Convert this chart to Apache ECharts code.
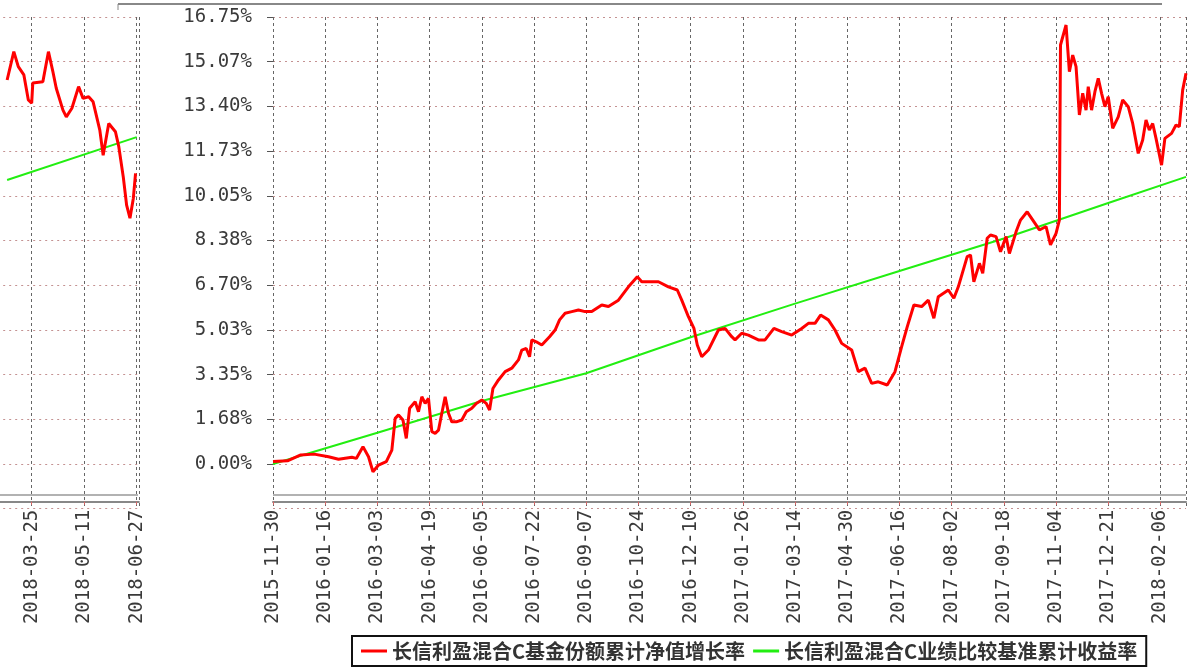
<!DOCTYPE html>
<html>
<head>
<meta charset="utf-8">
<script src="https://cdn.jsdelivr.net/npm/echarts@6/dist/echarts.min.js"></script>
<style>
  html, body { margin: 0; padding: 0; background: #fff; }
  #chart { width: 1192px; height: 671px; }
</style>
</head>
<body>
<div id="chart"></div>
<script>
// x 轴按自然日计, 0 = 2015-11-30, 每 47 天一个刻度
var xTickLabels = ['2015-11-30', '2016-01-16', '2016-03-03', '2016-04-19', '2016-06-05', '2016-07-22',
  '2016-09-07', '2016-10-24', '2016-12-10', '2017-01-26', '2017-03-14', '2017-04-30', '2017-06-16',
  '2017-08-02', '2017-09-18', '2017-11-04', '2017-12-21', '2018-02-06', '2018-03-25', '2018-05-11', '2018-06-27'];
var yTickLabels = ['0.00%', '1.68%', '3.35%', '5.03%', '6.70%', '8.38%', '10.05%', '11.73%', '13.40%', '15.07%', '16.75%'];

var seriesNames = ['长信利盈混合C基金份额累计净值增长率', '长信利盈混合C业绩比较基准累计收益率'];

// 基金累计净值增长率 (%)
var redDays = [0, 13, 25, 37, 50, 59, 71,
  75, 81, 86, 90, 95, 102, 107, 110, 113, 117,
  120, 123, 128, 131, 134, 137, 140, 143, 146, 149,
  152, 155, 158, 161, 165, 170, 174, 179, 183, 188,
  192, 195, 198, 203, 209,
  215, 221, 224, 228, 231, 233, 237, 242, 249, 254,
  258, 263, 269, 275, 281, 287, 296, 302, 311, 320,
  328, 332, 338, 347, 356, 364, 368, 374, 379, 382,
  386, 392, 401, 407, 413, 416, 422, 428, 437, 443,
  451, 458, 467, 476, 482, 488, 493, 500, 506, 512,
  521, 527, 533, 539, 545, 553, 560, 566, 571, 577,
  584, 590, 595, 599, 608, 613, 617, 625, 628, 631,
  636, 639, 643, 646, 651, 655, 660, 663, 669, 673,
  679, 685, 690, 696, 700, 705, 708,
  709, 714, 717, 720, 723, 726, 729, 732, 734, 737,
  740, 743, 746, 749, 752, 756, 761, 765, 770, 774,
  779, 783, 786, 789, 792, 795, 800, 803, 809, 813,
  816, 819, 822];
var redValues = [0.09, 0.12, 0.34, 0.37, 0.27, 0.18, 0.25,
  0.21, 0.65, 0.27, -0.29, -0.04, 0.09, 0.52, 1.71, 1.84, 1.65,
  0.96, 2.09, 2.33, 1.96, 2.52, 2.27, 2.46, 1.21, 1.15, 1.27,
  1.90, 2.52, 1.90, 1.58, 1.58, 1.65, 1.96, 2.09, 2.27, 2.40,
  2.27, 2.02, 2.83, 3.15, 3.46,
  3.59, 3.90, 4.27, 4.33, 4.02, 4.65, 4.58, 4.46, 4.77, 5.02,
  5.40, 5.65, 5.71, 5.77, 5.71, 5.71, 5.96, 5.90, 6.14, 6.64,
  7.02, 6.83, 6.83, 6.83, 6.64, 6.52, 6.14, 5.52, 5.08, 4.46,
  4.02, 4.27, 5.02, 5.08, 4.77, 4.65, 4.90, 4.83, 4.65, 4.65,
  5.08, 4.96, 4.83, 5.08, 5.27, 5.27, 5.58, 5.40, 5.02, 4.52,
  4.27, 3.46, 3.59, 3.02, 3.08, 2.96, 3.46, 4.40, 5.14, 5.96,
  5.90, 6.14, 5.46, 6.27, 6.52, 6.21, 6.64, 7.77, 7.83, 6.83,
  7.52, 7.15, 8.46, 8.58, 8.52, 7.95, 8.52, 7.89, 8.70, 9.14,
  9.45, 9.08, 8.77, 8.90, 8.21, 8.64, 9.14,
  15.70, 16.45, 14.70, 15.32, 14.89, 13.08, 13.89, 13.26, 14.14, 13.26,
  13.95, 14.45, 13.89, 13.39, 13.76, 12.58, 13.01, 13.64, 13.39, 12.76,
  11.64, 12.14, 12.89, 12.51, 12.76, 12.20, 11.20, 12.20, 12.39, 12.70,
  12.64, 14.01, 14.64];

// 业绩比较基准累计收益率 (%)
var benchDays = [0, 94, 188, 282, 376, 470, 564, 658, 752, 822];
var benchValues = [0.00, 1.17, 2.36, 3.40, 4.75, 6.01, 7.23, 8.45, 9.78, 10.76];

// 左侧残留的 2018 年区段
var tailDays = [824, 830, 834, 839, 843, 846, 847, 856, 861, 865, 868, 874, 877, 882, 888, 892, 897, 901,
  907, 910, 915, 921, 924, 928, 931, 934, 937, 939];
var tailValues = [14.39, 15.45, 14.89, 14.58, 13.64, 13.52, 14.28, 14.32, 15.45, 14.70, 14.08, 13.26, 13.01, 13.33,
  14.14, 13.70, 13.76, 13.57, 12.51, 11.57, 12.76, 12.45, 11.89, 10.76, 9.70, 9.21, 9.95, 10.89];
var tailBenchDays = [824, 940];
var tailBenchValues = [10.64, 12.25];

function pairs(xs, ys) {
  return xs.map(function (x, i) { return [x, ys[i]]; });
}

var chart = echarts.init(document.getElementById('chart'));

var labelFont = {
  fontFamily: 'DejaVu Sans Mono',
  fontSize: 19,
  color: '#3a3a3a'
};

function xLabel(v) {
  if (v % 47 !== 0) return '';
  return xTickLabels[Math.round(v / 47)] || '';
}
function yLabel(v) {
  var i = Math.round(v / 1.675);
  return i >= 0 ? (yTickLabels[i] || '') : '';
}

var hSplit = { show: true, lineStyle: { color: '#c49292', type: [2, 4], width: 1 } };
var vSplit = { show: true, lineStyle: { color: '#666', type: [3, 3], width: 1 } };

var xCommon = {
  type: 'value',
  interval: 47,
  offset: -7,
  axisLine: { show: true, onZero: false, lineStyle: { color: '#888', width: 2 } },
  axisTick: { show: true, length: 3, lineStyle: { color: '#d66' } },
  axisLabel: Object.assign({ rotate: 90, margin: 8, showMaxLabel: false, formatter: xLabel }, labelFont),
  splitLine: vSplit
};

var yCommon = {
  type: 'value',
  min: -1.675,
  max: 16.75,
  interval: 1.675,
  axisLine: { show: false },
  splitLine: hSplit
};

var option = {
  animation: false,
  backgroundColor: '#fff',
  grid: [
    { left: 273, right: 6, top: 17, bottom: 162.3, outerBoundsMode: 'none' },
    { left: -20.8, right: 1053.1, top: 17, bottom: 162.3, outerBoundsMode: 'none' }
  ],
  xAxis: [
    Object.assign({}, xCommon, { gridIndex: 0, min: 0, max: 822 }),
    Object.assign({}, xCommon, { gridIndex: 1, min: 799, max: 942 })
  ],
  yAxis: [
    Object.assign({}, yCommon, {
      gridIndex: 0,
      axisTick: { show: true, length: 6, lineStyle: { color: '#555' } },
      axisLabel: Object.assign({ margin: 21, showMinLabel: false, formatter: yLabel }, labelFont)
    }),
    Object.assign({}, yCommon, {
      gridIndex: 1,
      axisTick: { show: false },
      axisLabel: { show: false }
    })
  ],
  legend: {
    left: 352,
    top: 636,
    padding: [5, 9],
    itemGap: 8,
    itemWidth: 26,
    itemHeight: 3,
    icon: 'rect',
    borderColor: '#111',
    borderWidth: 2,
    backgroundColor: '#fff',
    data: seriesNames,
    textStyle: {
      fontFamily: 'Noto Sans CJK SC',
      fontSize: 20,
      fontWeight: 'bold',
      color: '#333'
    }
  },
  series: [
    {
      name: seriesNames[1], type: 'line', xAxisIndex: 0, yAxisIndex: 0,
      symbol: 'none', lineStyle: { color: '#22ee11', width: 2 }, itemStyle: { color: '#22ee11' },
      data: pairs(benchDays, benchValues), z: 3
    },
    {
      name: seriesNames[0], type: 'line', xAxisIndex: 0, yAxisIndex: 0,
      symbol: 'none', lineStyle: { color: '#ff0000', width: 3 }, itemStyle: { color: '#ff0000' },
      data: pairs(redDays, redValues), z: 4
    },
    {
      name: seriesNames[1], type: 'line', xAxisIndex: 1, yAxisIndex: 1,
      symbol: 'none', lineStyle: { color: '#22ee11', width: 2 }, itemStyle: { color: '#22ee11' },
      data: pairs(tailBenchDays, tailBenchValues), z: 3
    },
    {
      name: seriesNames[0], type: 'line', xAxisIndex: 1, yAxisIndex: 1,
      symbol: 'none', lineStyle: { color: '#ff0000', width: 3 }, itemStyle: { color: '#ff0000' },
      data: pairs(tailDays, tailValues), z: 4
    }
  ],
  graphic: [
    { type: 'line', shape: { x1: 118, y1: 4, x2: 1162, y2: 4 }, style: { stroke: '#888', lineWidth: 2 } },
    { type: 'line', shape: { x1: 118, y1: 4, x2: 118, y2: 10 }, style: { stroke: '#888', lineWidth: 1 } },
    { type: 'line', shape: { x1: 0, y1: 495, x2: 138, y2: 495 }, style: { stroke: '#999', lineWidth: 1.5 } },
    { type: 'line', shape: { x1: 273, y1: 495, x2: 1186, y2: 495 }, style: { stroke: '#999', lineWidth: 1.5 } }
  ]
};

chart.setOption(option);
</script>
</body>
</html>
